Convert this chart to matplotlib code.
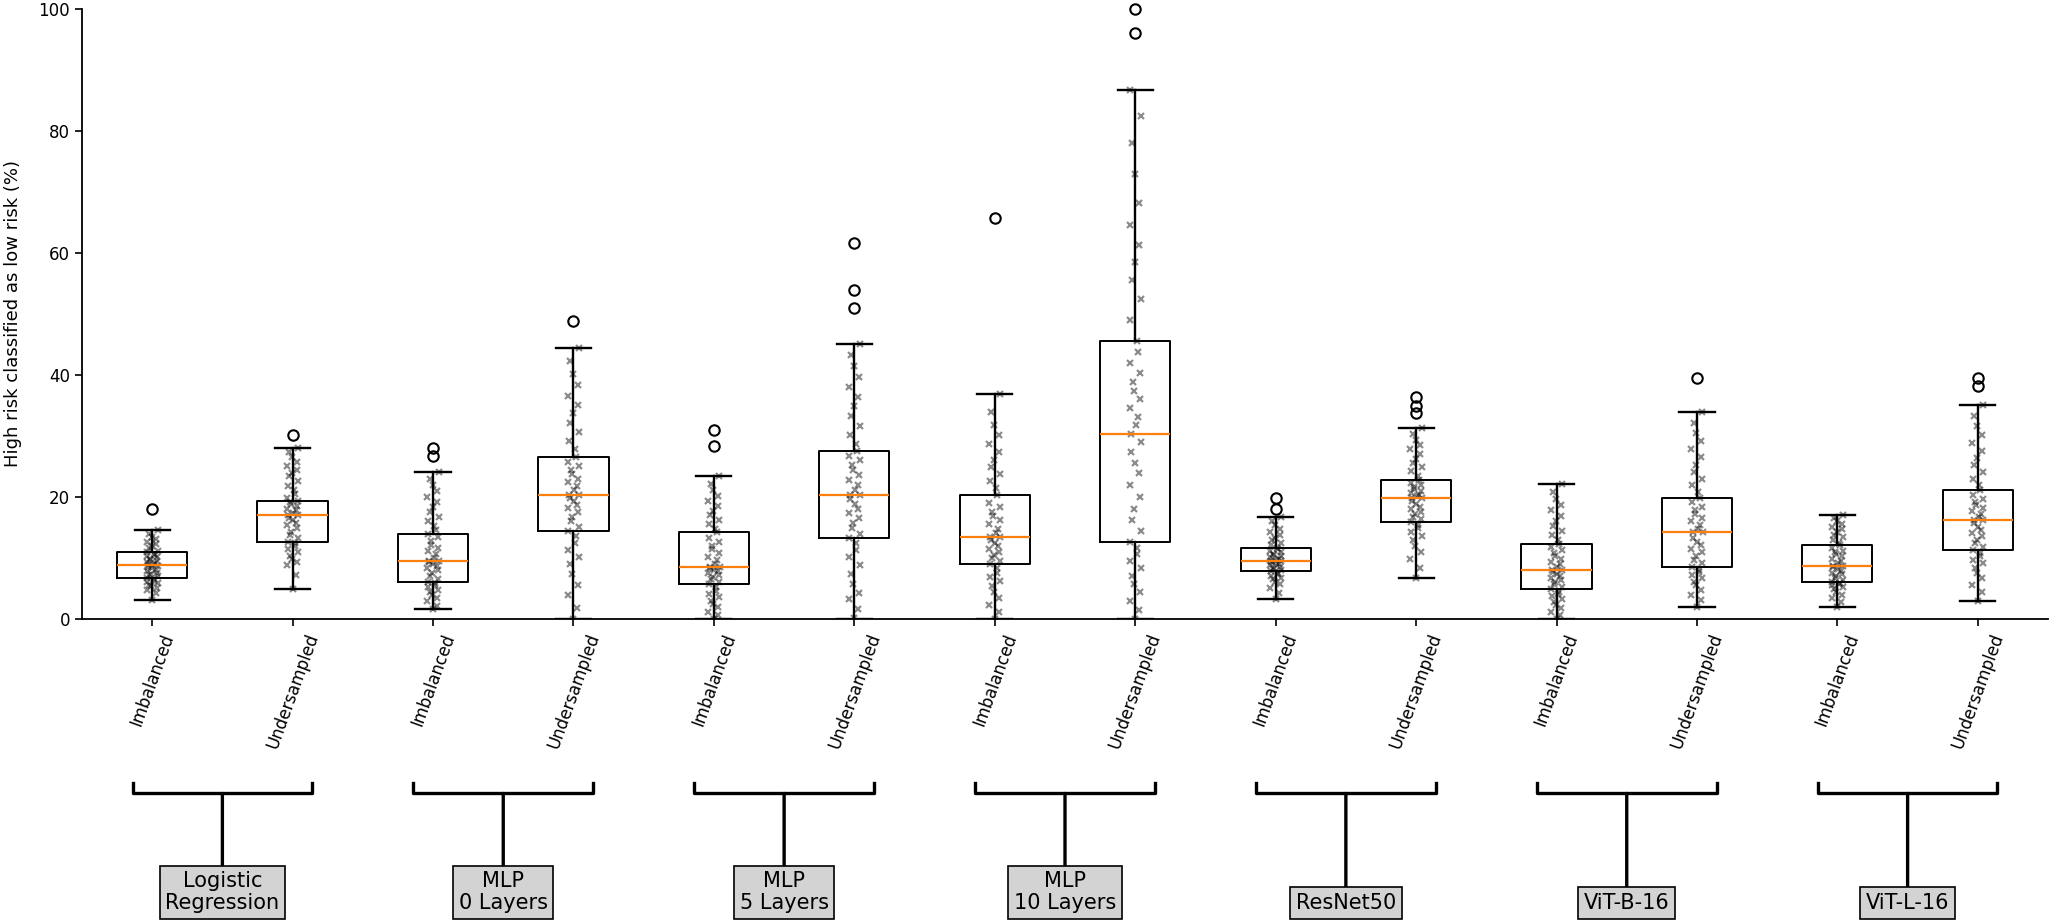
import numpy as np
import matplotlib.pyplot as plt

# Categories
methods = ['Logistic\nRegression', 'MLP\n0 Layers', 'MLP\n5 Layers', 'MLP\n10 Layers',
           'ResNet50', 'ViT-B-16', 'ViT-L-16']
sampling = ['Imbalanced', 'Undersampled']

# Box statistics (one entry per box, left to right)
q1 = [6.7, 12.7, 6.1, 14.4, 5.7, 13.2, 9.0, 12.7, 7.8, 15.9, 4.9, 8.5, 6.1, 11.3]
med = [8.9, 17.0, 9.5, 20.4, 8.5, 20.4, 13.4, 30.3, 9.5, 19.8, 8.0, 14.2, 8.7, 16.2]
q3 = [10.9, 19.4, 14.0, 26.6, 14.2, 27.5, 20.4, 45.5, 11.7, 22.8, 12.3, 19.8, 12.1, 21.1]
whis_lo = [3.1, 4.9, 1.6, 0.0, 0.0, 0.0, 0.0, 0.0, 3.3, 6.7, 0.0, 2.0, 2.0, 3.0]
whis_hi = [14.6, 28.1, 24.1, 44.4, 23.4, 45.0, 36.9, 86.7, 16.8, 31.3, 22.1, 33.9, 17.0, 35.0]
outliers = [[18.1], [30.1], [28.0, 26.8], [48.9], [30.9, 28.3], [61.6, 53.9, 51.0], [65.7],
            [100.0, 96.0], [19.8, 18.1], [36.4, 34.9, 33.8], [], [39.5], [], [39.5, 38.2]]

# Individual runs (estimated from the scatter)
runs = [
    [3.1, 4.2, 4.8, 5.1, 5.4, 5.6, 5.9, 6.1, 6.3, 6.5, 6.7, 7.0, 7.2, 7.4, 7.6, 7.9, 8.1, 8.3, 8.5, 8.7, 8.9,
     8.9, 9.1, 9.3, 9.5, 9.7, 9.9, 10.1, 10.3, 10.5, 10.7, 10.9, 11.2, 11.6, 12.0, 12.3, 12.7, 13.1, 13.5, 14.0, 14.6],
    [4.9, 7.2, 8.9, 9.3, 9.9, 10.4, 11.0, 11.5, 12.0, 12.4, 12.7, 13.2, 13.8, 14.3, 14.9, 15.4, 15.8, 16.2, 16.6,
     17.0, 17.0, 17.4, 17.8, 18.1, 18.5, 18.8, 19.1, 19.4, 19.9, 20.5, 21.1, 21.8, 22.6, 23.4, 24.0, 24.5, 25.1,
     25.8, 26.6, 27.3, 28.1],
    [1.6, 2.2, 2.9, 3.5, 4.0, 4.4, 4.8, 5.2, 5.6, 5.9, 6.1, 6.6, 7.1, 7.6, 8.0, 8.4, 8.7, 9.0, 9.3, 9.5, 9.5,
     10.0, 10.6, 11.1, 11.7, 12.2, 12.8, 13.4, 14.0, 14.6, 15.3, 16.0, 16.8, 17.6, 18.4, 19.2, 20.0, 20.9, 21.9,
     23.0, 24.1],
    [0.0, 1.8, 3.9, 5.6, 7.4, 9.0, 10.1, 11.3, 12.4, 13.6, 14.4, 15.1, 16.0, 16.8, 17.5, 18.2, 18.7, 19.3, 19.8,
     20.4, 20.4, 21.1, 21.8, 22.4, 23.0, 23.7, 24.4, 25.1, 25.8, 26.6, 27.8, 29.2, 30.6, 32.2, 33.7, 35.1, 36.6,
     38.4, 40.2, 42.3, 44.4],
    [0.0, 0.6, 1.2, 1.9, 2.5, 3.0, 3.6, 4.1, 4.6, 5.2, 5.7, 6.1, 6.5, 6.9, 7.2, 7.5, 7.8, 8.0, 8.3, 8.5, 8.5,
     9.0, 9.6, 10.2, 10.8, 11.4, 12.0, 12.6, 13.3, 14.2, 14.8, 15.5, 16.2, 17.0, 17.7, 18.5, 19.3, 20.2, 21.1,
     22.2, 23.4],
    [0.2, 1.6, 3.2, 4.3, 5.8, 7.4, 8.9, 10.1, 11.3, 12.4, 13.2, 14.0, 14.9, 15.7, 16.5, 17.3, 18.0, 18.8, 19.6,
     20.4, 20.4, 21.1, 22.0, 22.8, 23.6, 24.4, 25.2, 26.0, 26.8, 27.5, 28.7, 30.1, 31.6, 33.2, 34.9, 36.4, 38.0,
     39.7, 41.5, 43.2, 45.0],
    [0.0, 1.1, 2.3, 3.4, 4.5, 5.4, 6.2, 6.9, 7.6, 8.3, 9.0, 9.5, 10.0, 10.5, 11.0, 11.5, 12.0, 12.5, 13.0, 13.4,
     13.4, 14.1, 14.8, 15.5, 16.2, 16.9, 17.6, 18.3, 19.0, 20.4, 21.4, 22.6, 23.7, 24.9, 26.1, 27.4, 28.7, 30.2,
     31.8, 34.0, 36.9],
    [0.0, 1.5, 3.0, 4.4, 5.8, 7.1, 8.3, 9.5, 10.6, 11.7, 12.7, 14.4, 16.2, 18.1, 20.0, 22.0, 23.9, 25.6, 27.3,
     29.0, 30.3, 31.8, 33.1, 34.6, 36.0, 37.4, 38.8, 40.3, 41.9, 43.7, 45.5, 49.0, 52.4, 55.6, 58.5, 61.3, 64.6,
     68.2, 72.9, 78.0, 82.4, 86.7],
    [3.3, 4.3, 5.1, 5.7, 6.1, 6.5, 6.8, 7.1, 7.4, 7.6, 7.8, 8.0, 8.2, 8.4, 8.6, 8.8, 9.0, 9.2, 9.3, 9.5, 9.5,
     9.7, 9.9, 10.1, 10.3, 10.5, 10.7, 10.9, 11.2, 11.4, 11.7, 12.1, 12.5, 12.9, 13.3, 13.8, 14.3, 14.8, 15.4,
     16.1, 16.8],
    [6.7, 8.4, 9.8, 11.0, 12.0, 12.9, 13.6, 14.3, 14.9, 15.4, 15.9, 16.4, 16.8, 17.2, 17.6, 18.0, 18.4, 18.8,
     19.3, 19.8, 19.8, 20.1, 20.4, 20.7, 21.0, 21.3, 21.6, 21.9, 22.3, 22.8, 23.5, 24.2, 24.9, 25.6, 26.3, 27.0,
     27.8, 28.6, 29.4, 30.3, 31.3],
    [0.0, 0.6, 1.2, 1.8, 2.3, 2.8, 3.3, 3.7, 4.1, 4.5, 4.9, 5.3, 5.7, 6.0, 6.4, 6.7, 7.0, 7.3, 7.7, 8.0, 8.0,
     8.5, 9.0, 9.4, 9.9, 10.3, 10.8, 11.3, 11.8, 12.3, 13.0, 13.7, 14.5, 15.3, 16.1, 16.9, 17.8, 18.7, 19.6,
     20.8, 22.1],
    [2.0, 3.1, 4.0, 4.8, 5.5, 6.1, 6.7, 7.2, 7.7, 8.1, 8.5, 9.1, 9.7, 10.3, 10.9, 11.5, 12.1, 12.7, 13.3, 14.2,
     14.2, 14.8, 15.4, 16.0, 16.6, 17.2, 17.8, 18.4, 19.1, 19.8, 20.8, 21.9, 23.0, 24.1, 25.3, 26.5, 27.8, 29.1,
     30.5, 32.1, 33.9],
    [2.0, 2.8, 3.5, 4.0, 4.5, 4.9, 5.2, 5.5, 5.7, 5.9, 6.1, 6.4, 6.7, 7.0, 7.3, 7.6, 7.9, 8.2, 8.5, 8.7, 8.7,
     9.1, 9.5, 9.9, 10.3, 10.6, 10.9, 11.2, 11.6, 12.1, 12.5, 13.0, 13.4, 13.8, 14.3, 14.7, 15.1, 15.6, 16.1,
     16.5, 17.0],
    [3.0, 4.4, 5.6, 6.7, 7.6, 8.4, 9.1, 9.7, 10.3, 10.8, 11.3, 11.8, 12.4, 13.0, 13.6, 14.1, 14.6, 15.1, 15.7,
     16.2, 16.2, 16.7, 17.2, 17.7, 18.2, 18.7, 19.2, 19.7, 20.4, 21.1, 22.0, 23.0, 24.1, 25.2, 26.4, 27.6, 28.8,
     30.1, 31.6, 33.2, 35.0],
]

positions = np.arange(1, len(med) + 1)
tick_labels = sampling * len(methods)

fig = plt.figure(figsize=(20.54, 9.24), dpi=100)
ax = fig.add_axes([0.0399, 0.3301, 0.9572, 0.6602])

stats = []
for i in range(len(med)):
    stats.append(dict(med=med[i], q1=q1[i], q3=q3[i], whislo=whis_lo[i], whishi=whis_hi[i],
                      fliers=outliers[i]))

bp = ax.bxp(stats, positions=positions, widths=0.5,
            boxprops=dict(lw=1.4, color='k'),
            whiskerprops=dict(lw=1.7, color='k'),
            capprops=dict(lw=1.7, color='k'),
            medianprops=dict(lw=1.6, color='#ff7f0e'),
            flierprops=dict(marker='o', markersize=7.5, markerfacecolor='none',
                            markeredgecolor='k', markeredgewidth=1.5))
for f in bp['fliers']:
    f.set_clip_on(False)

# jittered runs on top of the boxes
for i, vals in enumerate(runs):
    k = np.arange(len(vals))
    xs = positions[i] + 0.04 * np.sin(k * 2.39996)
    ax.plot(xs, vals, linestyle='none', marker='x', markersize=4, mew=1.6,
            color='k', alpha=0.45)

ax.set_xlim(0.5, 14.5)
ax.set_ylim(0, 100)
ax.set_yticks([0, 20, 40, 60, 80, 100])
ax.set_xticks(positions)
ax.set_xticklabels(tick_labels, rotation=70, fontsize=12)
ax.tick_params(axis='y', labelsize=12)
ax.tick_params(width=1.2, length=5)
ax.set_ylabel('High risk classified as low risk (%)', fontsize=13, labelpad=12)
ax.spines['top'].set_visible(False)
ax.spines['right'].set_visible(False)
ax.spines['left'].set_linewidth(1.3)
ax.spines['bottom'].set_linewidth(1.3)

# group brackets with the model names
trans = ax.get_xaxis_transform()
for g, name in enumerate(methods):
    a = positions[2 * g] - 0.14
    b = positions[2 * g + 1] + 0.14
    mid = (positions[2 * g] + positions[2 * g + 1]) / 2
    ax.plot([a, a, b, b], [-0.269, -0.286, -0.286, -0.269], transform=trans,
            clip_on=False, color='k', lw=2.4)
    ax.annotate(name, xy=(mid, -0.286), xycoords=trans, xytext=(mid, -0.482), textcoords=trans,
                ha='center', va='bottom', fontsize=15, linespacing=1.1,
                bbox=dict(boxstyle='square,pad=0.27', fc='#d3d3d3', ec='k', lw=1.2),
                arrowprops=dict(arrowstyle='-', lw=2.4, color='k', shrinkA=0, shrinkB=0))

plt.savefig('out.png', dpi=100)
